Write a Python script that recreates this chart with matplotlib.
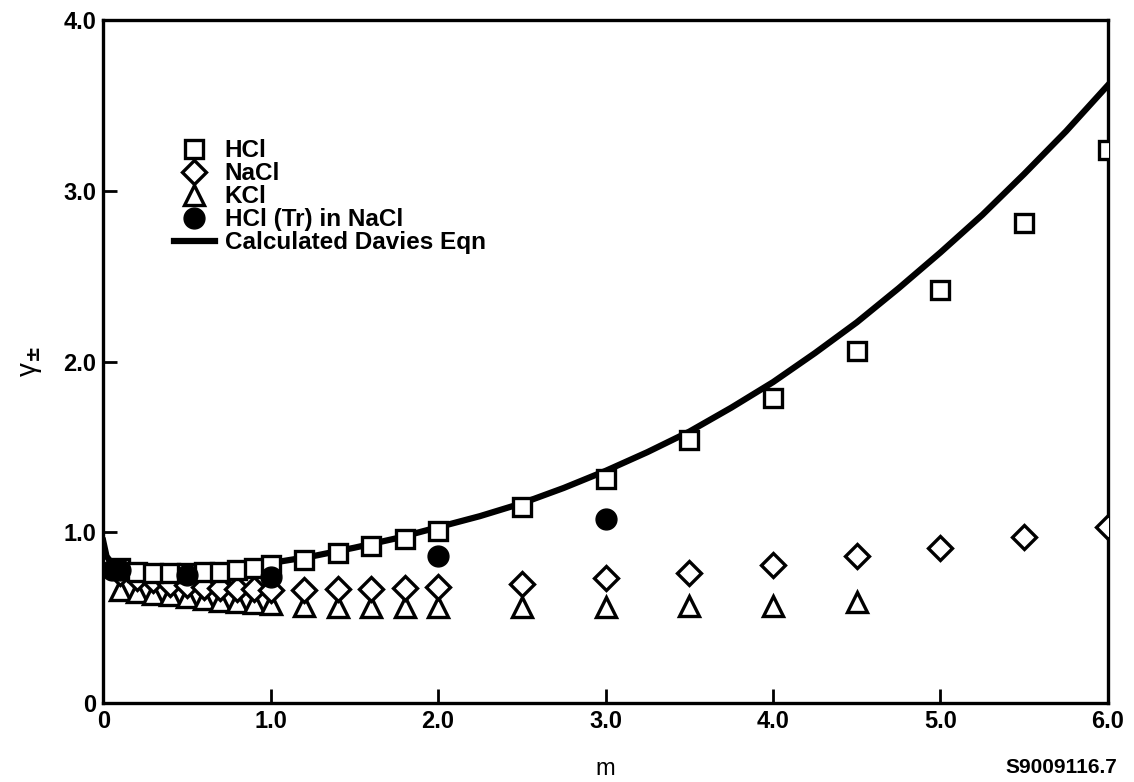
import matplotlib
matplotlib.use('Agg')
import matplotlib.pyplot as plt

plt.rcParams['font.family'] = ['Liberation Sans', 'DejaVu Sans']
plt.rcParams['font.weight'] = 'bold'

# HCl (squares)
m_hcl = [0.1, 0.2, 0.3, 0.4, 0.5, 0.6, 0.7, 0.8, 0.9, 1.0, 1.2, 1.4, 1.6, 1.8, 2.0,
         2.5, 3.0, 3.5, 4.0, 4.5, 5.0, 5.5, 6.0]
g_hcl = [0.79, 0.77, 0.76, 0.76, 0.76, 0.765, 0.77, 0.78, 0.79, 0.81, 0.84, 0.88, 0.92, 0.96, 1.01,
         1.15, 1.31, 1.54, 1.79, 2.06, 2.42, 2.81, 3.24]

# NaCl (diamonds)
m_nacl = [0.1, 0.2, 0.3, 0.4, 0.5, 0.6, 0.7, 0.8, 0.9, 1.0, 1.2, 1.4, 1.6, 1.8, 2.0,
          2.5, 3.0, 3.5, 4.0, 4.5, 5.0, 5.5, 6.0]
g_nacl = [0.76, 0.73, 0.72, 0.70, 0.69, 0.68, 0.675, 0.67, 0.67, 0.665, 0.665, 0.67, 0.67, 0.675, 0.68,
          0.70, 0.73, 0.76, 0.81, 0.86, 0.91, 0.97, 1.03]

# KCl (triangles)
m_kcl = [0.1, 0.2, 0.3, 0.4, 0.5, 0.6, 0.7, 0.8, 0.9, 1.0, 1.2, 1.4, 1.6, 1.8, 2.0,
         2.5, 3.0, 3.5, 4.0, 4.5]
g_kcl = [0.66, 0.65, 0.64, 0.63, 0.62, 0.61, 0.60, 0.59, 0.585, 0.58, 0.57, 0.565, 0.565, 0.56, 0.56,
         0.56, 0.56, 0.57, 0.57, 0.59]

# HCl (Tr) in NaCl (filled circles)
m_tr = [0.05, 0.1, 0.5, 1.0, 2.0, 3.0]
g_tr = [0.78, 0.78, 0.75, 0.74, 0.86, 1.08]

# Calculated Davies equation
m_dav = [0.0, 0.02, 0.05, 0.1, 0.2, 0.3, 0.5, 0.75, 1.0, 1.25, 1.5, 1.75, 2.0,
         2.25, 2.5, 2.75, 3.0, 3.25, 3.5, 3.75, 4.0, 4.25, 4.5, 4.75, 5.0, 5.25, 5.5, 5.75, 6.0]
g_dav = [0.95, 0.86, 0.82, 0.79, 0.77, 0.765, 0.765, 0.785, 0.82, 0.86, 0.91, 0.965, 1.03,
         1.095, 1.17, 1.26, 1.36, 1.47, 1.59, 1.73, 1.88, 2.05, 2.23, 2.43, 2.64, 2.86, 3.10, 3.35, 3.62]

xticks = [0, 1, 2, 3, 4, 5, 6]
xlabels = ['0', '1.0', '2.0', '3.0', '4.0', '5.0', '6.0']
yticks = [0, 1, 2, 3, 4]
ylabels = ['0', '1.0', '2.0', '3.0', '4.0']

fig = plt.figure(figsize=(11.34, 7.82), dpi=100)
ax = fig.add_axes([0.091, 0.101, 0.886, 0.873])

mk = dict(linestyle='none', markerfacecolor='white', markeredgecolor='black',
          markeredgewidth=2.4)
ax.plot(m_dav, g_dav, color='black', lw=4.5, label='Calculated Davies Eqn', zorder=2)
ax.plot(m_kcl, g_kcl, marker='^', ms=15, label='KCl', zorder=3, **mk)
ax.plot(m_nacl, g_nacl, marker='D', ms=12, label='NaCl', zorder=4, **mk)
ax.plot(m_hcl, g_hcl, marker='s', ms=13, label='HCl', zorder=5, **mk)
ax.plot(m_tr, g_tr, linestyle='none', marker='o', ms=15, color='black',
        label='HCl (Tr) in NaCl', zorder=6)

ax.set_xlim(0, 6)
ax.set_ylim(0, 4)
ax.set_xticks(xticks)
ax.set_xticklabels(xlabels)
ax.set_yticks(yticks)
ax.set_yticklabels(ylabels)
ax.tick_params(direction='in', length=10, width=2, labelsize=17, pad=5)
for s in ax.spines.values():
    s.set_linewidth(2.4)

ax.set_xlabel('m', fontsize=17, labelpad=18)
ax.set_ylabel('γ$_{\\pm}$', fontsize=20, labelpad=14)

fig.text(0.985, 0.006, 'S9009116.7', ha='right', va='bottom', fontsize=15, fontweight='bold')

h, l = ax.get_legend_handles_labels()
order = [3, 2, 1, 4, 0]
ax.legend([h[i] for i in order], [l[i] for i in order], loc='upper left',
          bbox_to_anchor=(0.07, 0.826), frameon=False, fontsize=17.5,
          handlelength=1.7, handletextpad=0.4, labelspacing=0.0,
          borderpad=0, borderaxespad=0)

fig.savefig('out.png', dpi=100)
